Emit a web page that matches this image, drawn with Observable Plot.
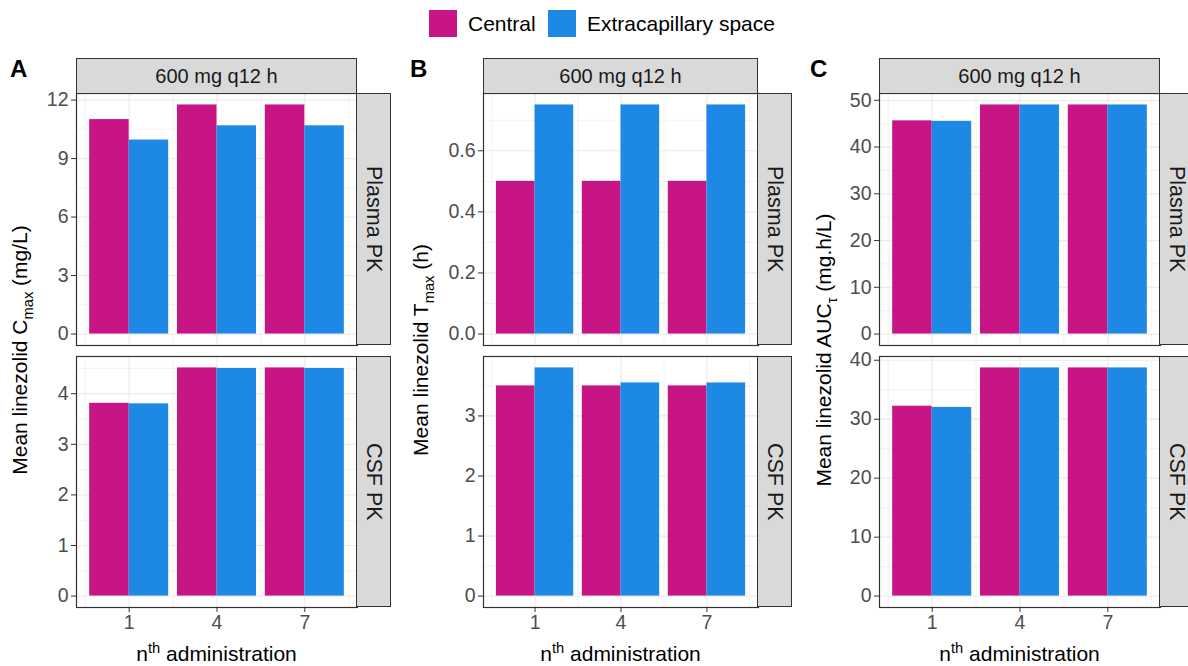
<!DOCTYPE html>
<html><head><meta charset="utf-8">
<script src="https://cdn.jsdelivr.net/npm/d3@7"></script>
<script src="https://cdn.jsdelivr.net/npm/@observablehq/plot@0.6"></script>
<style>
body{margin:0;background:#fff;font-family:"Liberation Sans",Arial,sans-serif;}
#root{position:relative;width:1188px;height:666px;overflow:hidden;background:#fff;}
.strip{position:absolute;background:#D9D9D9;border:1.2px solid #333;box-sizing:border-box;display:flex;align-items:center;justify-content:center;color:#1A1A1A;font-size:20px;white-space:nowrap;}
.vstrip{writing-mode:vertical-rl;font-size:21.5px;}
.ytitle{position:absolute;transform:translate(-50%,-50%) rotate(-90deg);white-space:nowrap;font-size:21px;color:#000;}
.xtitle{position:absolute;transform:translate(-50%,-50%);white-space:nowrap;font-size:21px;color:#000;}
.ytitle sub,.xtitle sup{font-size:0.7em;}
.tag{position:absolute;font-weight:bold;font-size:24px;color:#000;}
.sw{position:absolute;width:28px;height:27px;}
.lt{position:absolute;font-size:21px;color:#000;white-space:nowrap;}
</style></head>
<body><div id="root"></div>
<script>
const administrations = ["1", "4", "7"];
const series = ["Central", "Extracapillary space"];
const colors = ["#C71585", "#1E88E5"];
const facetTitle = "600 mg q12 h";
const rowLabels = ["Plasma PK", "CSF PK"];
const panelTags = ["A", "B", "C"];

const cmaxPlasmaCentral = [11.0, 11.75, 11.75];
const cmaxPlasmaECS = [9.95, 10.68, 10.68];
const cmaxCsfCentral = [3.81, 4.51, 4.51];
const cmaxCsfECS = [3.80, 4.50, 4.50];
const tmaxPlasmaCentral = [0.5, 0.5, 0.5];
const tmaxPlasmaECS = [0.75, 0.75, 0.75];
const tmaxCsfCentral = [3.5, 3.5, 3.5];
const tmaxCsfECS = [3.8, 3.55, 3.55];
const aucPlasmaCentral = [45.6, 49.0, 49.0];
const aucPlasmaECS = [45.5, 49.0, 49.0];
const aucCsfCentral = [32.2, 38.7, 38.7];
const aucCsfECS = [32.0, 38.7, 38.7];

const ticksCmaxPlasma = [0, 3, 6, 9, 12];
const ticksCmaxCsf = [0, 1, 2, 3, 4];
const ticksTmaxPlasma = [0, 0.2, 0.4, 0.6];
const ticksTmaxCsf = [0, 1, 2, 3];
const ticksAucPlasma = [0, 10, 20, 30, 40, 50];
const ticksAucCsf = [0, 10, 20, 30, 40];

const root = document.getElementById("root");
const FONT = '"Liberation Sans", Arial, sans-serif';
const TICK_FS = 19.5;

function el(cls, html, style) {
  const d = document.createElement("div");
  d.className = cls;
  d.innerHTML = html;
  Object.assign(d.style, style);
  root.appendChild(d);
  return d;
}

function panel(central, ecs, yTicks, fmt, box, showX) {
  const data = [];
  administrations.forEach((a, i) => {
    data.push({pos: i + 1, series: series[0], value: central[i]});
    data.push({pos: i + 1, series: series[1], value: ecs[i]});
  });
  const max = d3.max(data, d => d.value);
  const mt = 12, mb = showX ? 40 : 12;
  const step = yTicks[1] - yTicks[0];
  const yMin = -0.05 * max, yMax = 1.05 * max;
  const minorY = [yTicks[0] - step / 2, ...yTicks.map(t => t + step / 2)].filter(v => v > yMin && v < yMax);
  const majorY = yTicks.filter(v => v >= yMin && v <= yMax);
  const majorX = administrations.map((a, i) => i + 1);
  const minorX = [0.5, ...majorX.map(v => v + 0.5)];
  const p = Plot.plot({
    width: box.R - box.x0 + 2,
    height: box.bottom - box.top + mt + mb,
    marginLeft: box.L - box.x0,
    marginRight: 2,
    marginTop: mt,
    marginBottom: mb,
    style: {background: "transparent", fontFamily: FONT, overflow: "visible"},
    x: {domain: [0.4, administrations.length + 0.6], axis: null},
    y: {domain: [yMin, yMax], axis: null},
    color: {domain: series, range: colors},
    marks: [
      Plot.ruleY(minorY, {stroke: "#EBEBEB", strokeWidth: 0.6}),
      Plot.ruleX(minorX, {stroke: "#EBEBEB", strokeWidth: 0.6}),
      Plot.ruleY(majorY, {stroke: "#EBEBEB", strokeWidth: 1.2}),
      Plot.ruleX(majorX, {stroke: "#EBEBEB", strokeWidth: 1.2}),
      Plot.rect(data, {
        x1: d => d.series === series[0] ? d.pos - 0.45 : d.pos,
        x2: d => d.series === series[0] ? d.pos : d.pos + 0.45,
        y1: d => 0,
        y2: "value",
        fill: "series"
      }),
      Plot.frame({stroke: "#333333", strokeWidth: 1.2}),
      Plot.axisY({ticks: majorY, tickFormat: fmt, tickSize: 5, tickPadding: 3, fontSize: TICK_FS,
        stroke: "#333333", fill: "#4D4D4D", label: null}),
      showX ? Plot.axisX({ticks: majorX, tickFormat: v => administrations[v - 1], tickSize: 5, tickPadding: 3,
        fontSize: TICK_FS, stroke: "#333333", fill: "#4D4D4D", label: null}) : null
    ]
  });
  p.style.position = "absolute";
  p.style.left = box.x0 + "px";
  p.style.top = (box.top - mt) + "px";
  root.appendChild(p);
}

const cols = [
  {x0: 0, L: 76, R: 357, title: "Mean linezolid C<sub>max</sub> (mg/L)", tx: 22,
   rows: [[cmaxPlasmaCentral, cmaxPlasmaECS, ticksCmaxPlasma, d3.format("d")], [cmaxCsfCentral, cmaxCsfECS, ticksCmaxCsf, d3.format("d")]]},
  {x0: 400, L: 483, R: 758, title: "Mean linezolid T<sub>max</sub> (h)", tx: 423,
   rows: [[tmaxPlasmaCentral, tmaxPlasmaECS, ticksTmaxPlasma, d3.format(".1f")], [tmaxCsfCentral, tmaxCsfECS, ticksTmaxCsf, d3.format("d")]]},
  {x0: 800, L: 879, R: 1160, title: "Mean linezolid AUC<sub>τ</sub> (mg.h/L)", tx: 826,
   rows: [[aucPlasmaCentral, aucPlasmaECS, ticksAucPlasma, d3.format("d")], [aucCsfCentral, aucCsfECS, ticksAucCsf, d3.format("d")]]}
];
const rowBoxes = [{top: 93, bottom: 345}, {top: 356, bottom: 607}];
const stripW = 35;

cols.forEach((c, ci) => {
  c.rows.forEach((r, ri) => {
    panel(r[0], r[1], r[2], r[3], {x0: c.x0, L: c.L, R: c.R, top: rowBoxes[ri].top, bottom: rowBoxes[ri].bottom}, ri === 1);
    el("strip vstrip", rowLabels[ri], {left: (c.R - 0.6) + "px", top: rowBoxes[ri].top + "px",
      width: stripW + "px", height: (rowBoxes[ri].bottom - rowBoxes[ri].top) + "px"});
  });
  el("strip", facetTitle, {left: c.L + "px", top: "58px", width: (c.R - c.L) + "px", height: "36px"});
  el("ytitle", c.title, {left: c.tx + "px", top: "350px"});
  el("xtitle", "n<sup>th</sup> administration", {left: ((c.L + c.R) / 2) + "px", top: "653px"});
  el("tag", panelTags[ci], {left: (c.x0 + 10) + "px", top: "55px"});
});

// legend
const legX = [429, 548];
const legTextX = [468, 587];
series.forEach((s, i) => {
  el("sw", "", {left: legX[i] + "px", top: "10px", background: colors[i]});
  el("lt", s, {left: legTextX[i] + "px", top: "10px", lineHeight: "27px"});
});
</script>
</body></html>
